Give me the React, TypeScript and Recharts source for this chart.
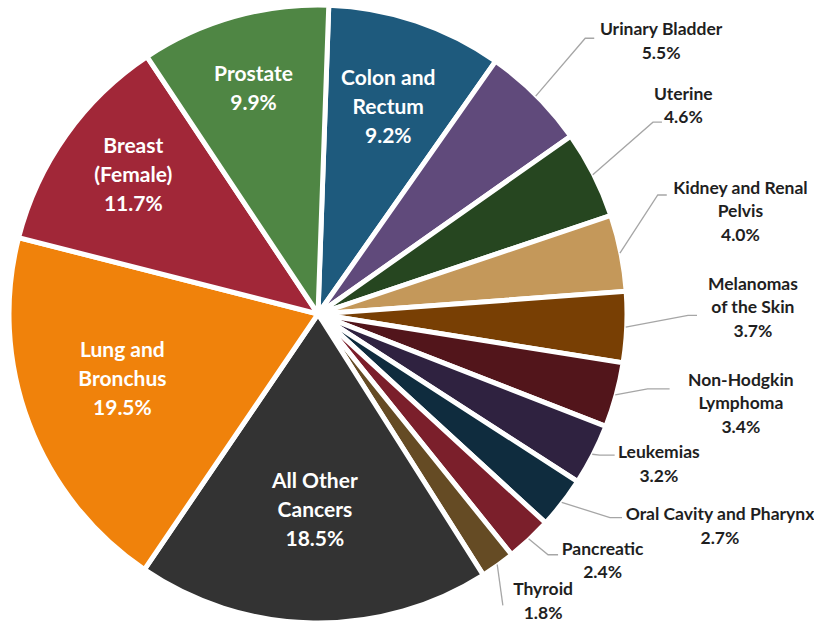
import { PieChart, Pie, Cell } from 'recharts';

// share of new cancer cases by site, clockwise from 12 o'clock
const sites = [
  'Colon and Rectum',
  'Urinary Bladder',
  'Uterine',
  'Kidney and Renal Pelvis',
  'Melanomas of the Skin',
  'Non-Hodgkin Lymphoma',
  'Leukemias',
  'Oral Cavity and Pharynx',
  'Pancreatic',
  'Thyroid',
  'All Other Cancers',
  'Lung and Bronchus',
  'Breast (Female)',
  'Prostate',
];

const shares = [9.2, 5.5, 4.6, 4.0, 3.7, 3.4, 3.2, 2.7, 2.4, 1.8, 18.5, 19.5, 11.7, 9.9];

// how each label is broken over lines (percent goes on the last line)
const labelLines = [
  ['Colon and', 'Rectum'],
  ['Urinary Bladder'],
  ['Uterine'],
  ['Kidney and Renal', 'Pelvis'],
  ['Melanomas', 'of the Skin'],
  ['Non-Hodgkin', 'Lymphoma'],
  ['Leukemias'],
  ['Oral Cavity and Pharynx'],
  ['Pancreatic'],
  ['Thyroid'],
  ['All Other', 'Cancers'],
  ['Lung and', 'Bronchus'],
  ['Breast', '(Female)'],
  ['Prostate'],
];

const colors = [
  '#1E5A7D',
  '#604A7B',
  '#264620',
  '#C4985A',
  '#783F04',
  '#52151B',
  '#2F2240',
  '#0F2C3E',
  '#7B1F2B',
  '#654B24',
  '#333333',
  '#F0820B',
  '#A12738',
  '#4F8644',
];

const data = sites.map((name, i) => ({ name, value: shares[i] }));

// label placement, mimicking Excel's best fit: inside labels sit near the
// slice's mid angle (fraction of radius, small angle nudge); outside ones hang
// off a leader line with an elbow (polar r, deg), a short flat stub, then text
type Layout =
  | { inside: number; nudge?: number }
  | { elbow: [number, number]; stub: number; text: [number, number] };

const labelLayout: Layout[] = [
  { inside: 0.715 },
  { elbow: [384, 45.9], stub: 9, text: [439, 38.6] },
  { elbow: [386, 29.8], stub: 9, text: [421, 29.8] },
  { elbow: [360, 19.3], stub: 9, text: [435, 13.8] },
  { elbow: [370, -0.2], stub: 9, text: [435, 1.0] },
  { elbow: [338, -12.8], stub: 22, text: [432, -11.8] },
  { elbow: [315, -26.6], stub: 15, text: [372, -23.6] },
  { elbow: [356, -34.9], stub: 12, text: [454, -27.7] },
  { elbow: [333, -46.3], stub: 10, text: [376, -40.8] },
  { elbow: [345, -57.6], stub: 0, text: [364, -51.8] },
  { inside: 0.627 },
  { inside: 0.665, nudge: -2.9 },
  { inside: 0.752, nudge: -2.0 },
  { inside: 0.766 },
];

const RAD = Math.PI / 180;
const polar = (cx: number, cy: number, r: number, deg: number) => ({
  x: cx + r * Math.cos(-deg * RAD),
  y: cy + r * Math.sin(-deg * RAD),
});

const FONT = 'Lato, "Open Sans", sans-serif';

const renderLabel = (props: any) => {
  const { cx, cy, midAngle, outerRadius, index } = props;
  const lay = labelLayout[index];
  const lines = [...labelLines[index], `${shares[index].toFixed(1)}%`];

  if ('inside' in lay) {
    const p = polar(cx, cy, outerRadius * lay.inside, midAngle + (lay.nudge || 0));
    const pitch = 29;
    const top = p.y - ((lines.length - 1) * pitch) / 2;
    return (
      <text
        key={`l-${index}`}
        textAnchor="middle"
        dominantBaseline="central"
        fill="#ffffff"
        fontFamily={FONT}
        fontWeight={700}
        fontSize={21}
      >
        {lines.map((l, i) => (
          <tspan key={i} x={p.x} y={top + i * pitch}>
            {l}
          </tspan>
        ))}
      </text>
    );
  }

  const start = polar(cx, cy, outerRadius - 1, midAngle);
  const elbow = polar(cx, cy, lay.elbow[0], lay.elbow[1]);
  const t = polar(cx, cy, lay.text[0], lay.text[1]);
  const pitch = 23.3;
  const top = t.y - ((lines.length - 1) * pitch) / 2;
  return (
    <g key={`l-${index}`}>
      <polyline
        points={`${start.x},${start.y} ${elbow.x},${elbow.y} ${elbow.x + lay.stub},${elbow.y}`}
        fill="none"
        stroke="#A6A6A6"
        strokeWidth={1.3}
      />
      <text
        textAnchor="middle"
        dominantBaseline="central"
        fill="#1F1F1F"
        fontFamily={FONT}
        fontWeight={700}
        fontSize={17.5}
      >
        {lines.map((l, i) => (
          <tspan key={i} x={t.x} y={top + i * pitch}>
            {l}
          </tspan>
        ))}
      </text>
    </g>
  );
};

export default function App() {
  return (
    <div style={{ width: 814, height: 623, background: '#ffffff' }}>
      <style>{`body { margin: 0; }`}</style>
      <PieChart width={814} height={623} margin={{ top: 0, right: 0, bottom: 0, left: 0 }}>
        <Pie
          data={data}
          dataKey="value"
          nameKey="name"
          cx={318}
          cy={314}
          outerRadius={309}
          startAngle={88}
          endAngle={-272}
          stroke="#ffffff"
          strokeWidth={5}
          label={renderLabel}
          labelLine={false}
          isAnimationActive={false}
        >
          {data.map((d, i) => (
            <Cell key={d.name} fill={colors[i]} />
          ))}
        </Pie>
      </PieChart>
    </div>
  );
}
